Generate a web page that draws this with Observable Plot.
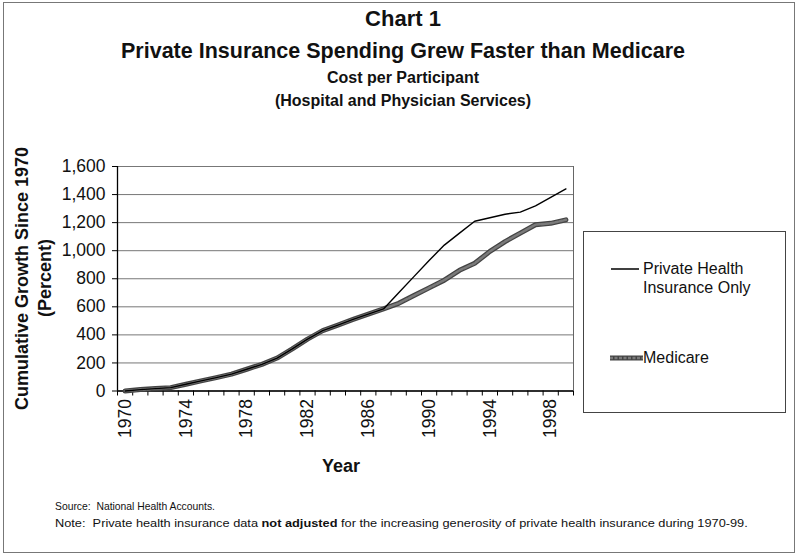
<!DOCTYPE html>
<html>
<head>
<meta charset="utf-8">
<script src="https://cdn.jsdelivr.net/npm/d3@7"></script>
<script src="https://cdn.jsdelivr.net/npm/@observablehq/plot@0.6"></script>
<style>
  html, body { margin: 0; padding: 0; background: #fff; }
  #wrap { position: relative; width: 799px; height: 556px; overflow: hidden; font-family: "Liberation Sans", Arial, Helvetica, sans-serif; color: #111; }
  #wrap svg.plot { position: absolute; left: 0; top: 0; }
  .frame { position: absolute; left: 3px; top: 2px; width: 792px; height: 551px; border: 1px solid #777; box-sizing: border-box; }
  .t { position: absolute; left: 0; width: 806px; text-align: center; font-weight: bold; white-space: nowrap; line-height: 1; }
  .note { position: absolute; left: 55px; font-size: 11px; white-space: nowrap; line-height: 1; transform-origin: 0 50%; }
  .ylab { position: absolute; font-weight: bold; font-size: 18px; white-space: nowrap; line-height: 1; transform-origin: 0 0; }
  .legend { position: absolute; left: 583px; top: 231px; width: 203px; height: 182px; border: 1px solid #444; box-sizing: border-box; background: #fff; }
  .legtxt { position: absolute; font-size: 16px; line-height: 19px; white-space: nowrap; }
</style>
</head>
<body>
<div id="wrap">
  <div class="frame"></div>
  <div class="t" style="top:8px;font-size:22px;">Chart 1</div>
  <div class="t" style="top:41px;font-size:21.5px;">Private Insurance Spending Grew Faster than Medicare</div>
  <div class="t" style="top:70px;font-size:16px;">Cost per Participant</div>
  <div class="t" style="top:93px;font-size:16px;">(Hospital and Physician Services)</div>
  <div class="note" id="src" style="top:501px;">Source:&nbsp; National Health Accounts.</div>
  <div class="note" id="nte" style="top:518px;">Note:&nbsp; Private health insurance data <b>not adjusted</b> for the increasing generosity of private health insurance during 1970-99.</div>
  <div class="legend">
    <svg width="203" height="182" style="position:absolute;left:0;top:0;">
      <line x1="27" y1="37" x2="55" y2="37" stroke="#000" stroke-width="1.5"/>
      <line x1="26" y1="126" x2="59" y2="126" stroke="#444" stroke-width="5"/>
      <line x1="26" y1="126" x2="59" y2="126" stroke="#7a7a7a" stroke-width="2.5" stroke-dasharray="3 1.5"/>
    </svg>
    <div class="legtxt" style="left:59px;top:27px;">Private Health<br>Insurance Only</div>
    <div class="legtxt" style="left:59px;top:116px;">Medicare</div>
  </div>
  <div id="chart"></div>
</div>
<script>
const years = [1970,1971,1972,1973,1974,1975,1976,1977,1978,1979,1980,1981,1982,1983,1984,1985,1986,1987,1988,1989,1990,1991,1992,1993,1994,1995,1996,1997,1998,1999];
const privateHealth = [0,10,17,24,48,72,95,120,155,190,235,300,370,430,470,510,548,585,700,815,930,1040,1125,1210,1235,1260,1275,1320,1380,1440];
const medicare = [0,10,17,24,48,72,95,120,155,190,235,300,370,430,470,510,548,585,625,680,735,790,860,910,995,1065,1125,1185,1195,1220];
const yTicks = [0,200,400,600,800,1000,1200,1400,1600];
const xLabelYears = [1970,1974,1978,1982,1986,1990,1994,1998];

const privRows = years.map((yr, i) => ({year: yr, value: privateHealth[i]}));
const medRows = years.map((yr, i) => ({year: yr, value: medicare[i]}));
const catEdges = years.map(yr => yr - 0.5).concat([years[years.length - 1] + 0.5]);
const xDomain = [catEdges[0], catEdges[catEdges.length - 1]];

const chart = Plot.plot({
  width: 799,
  height: 556,
  marginLeft: 117,
  marginRight: 226,
  marginTop: 166,
  marginBottom: 165.5,
  style: {fontFamily: "'Liberation Sans', Arial, Helvetica, sans-serif", fontSize: "17.5px", background: "transparent", color: "#111", overflow: "visible"},
  x: {type: "linear", domain: xDomain},
  y: {domain: [yTicks[0], yTicks[yTicks.length - 1]]},
  marks: [
    Plot.gridY(yTicks, {stroke: "#777", strokeOpacity: 1, strokeWidth: 1}),
    Plot.ruleX([xDomain[1]], {stroke: "#666", strokeWidth: 1}),
    Plot.axisY(yTicks, {tickFormat: d3.format(","), tickSize: 5, tickPadding: 7, label: null, stroke: "#000"}),
    Plot.axisX(catEdges, {tickSize: 5, tickPadding: 0, tickFormat: () => "", label: null, stroke: "#000"}),
    Plot.axisX(xLabelYears, {tickSize: 0, tickPadding: 8, tickRotate: -90, tickFormat: d => String(d), label: null}),
    Plot.ruleY([0], {stroke: "#000", strokeWidth: 1.3}),
    Plot.ruleX([xDomain[0]], {stroke: "#000", strokeWidth: 1.3}),
    Plot.lineY(medRows, {x: "year", y: "value", stroke: "#444", strokeWidth: 5}),
    Plot.lineY(medRows, {x: "year", y: "value", stroke: "#7a7a7a", strokeWidth: 2.5, strokeDasharray: "3 1.5"}),
    Plot.lineY(privRows, {x: "year", y: "value", stroke: "#000", strokeWidth: 1.4})
  ]
});
chart.classList.add("plot");
document.getElementById("chart").appendChild(chart);

const wrap = document.getElementById("wrap");
function fitWidth(id, target) {
  const el = document.getElementById(id);
  const w = el.offsetWidth;
  el.style.transform = "scaleX(" + (target / w) + ")";
}
fitWidth("src", 160);
fitWidth("nte", 693);

function rotLabel(text, cx, cy) {
  const d = document.createElement("div");
  d.className = "ylab";
  d.textContent = text;
  wrap.appendChild(d);
  const w = d.offsetWidth, h = d.offsetHeight;
  d.style.left = (cx - h / 2) + "px";
  d.style.top = (cy + w / 2) + "px";
  d.style.transform = "rotate(-90deg)";
}
rotLabel("Cumulative Growth Since 1970", 22, 278);
rotLabel("(Percent)", 45, 278);
const yr = document.createElement("div");
yr.className = "ylab";
yr.textContent = "Year";
yr.style.left = "322px";
yr.style.top = "457px";
wrap.appendChild(yr);
</script>
</body>
</html>
